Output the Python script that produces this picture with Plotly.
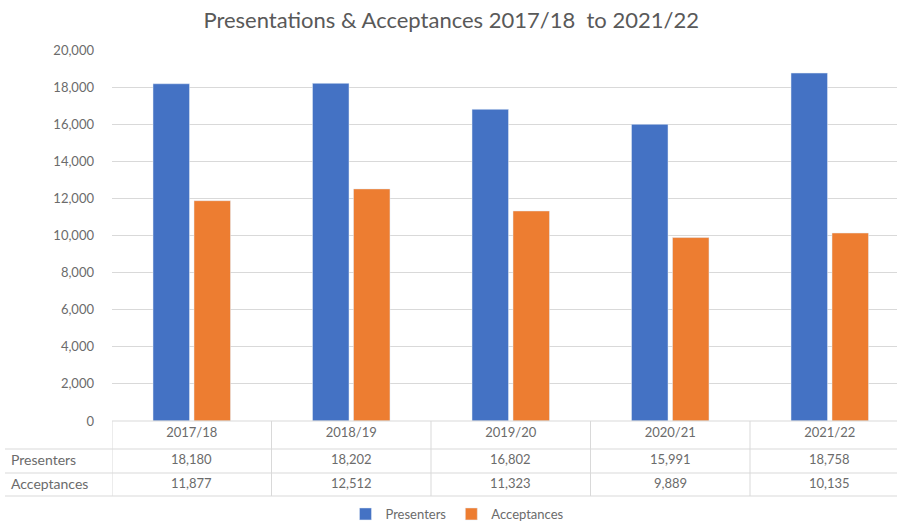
import plotly.graph_objects as go

categories = ["2017/18", "2018/19", "2019/20", "2020/21", "2021/22"]
presenters = [18180, 18202, 16802, 15991, 18758]
acceptances = [11877, 12512, 11323, 9889, 10135]
series_names = ["Presenters", "Acceptances"]
y_ticks = [0, 2000, 4000, 6000, 8000, 10000, 12000, 14000, 16000, 18000, 20000]

W, H = 897, 521
ML, MR, MT, MB = 112, 0, 50, 100
plot_w = W - ML - MR
plot_h = H - MT - MB
cat_px = 159.5
x_max = -0.5 + plot_w / cat_px

BLUE = "#4472C4"
ORANGE = "#ED7D31"
GRID = "#D9D9D9"
TXT = "#6b6b6b"
FONT = "Lato"

def py(px_below):  # pixels below plot bottom -> paper y
    return -px_below / plot_h

def pxx(px_from_left):  # page px -> paper x
    return (px_from_left - ML) / plot_w

fig = go.Figure()
fig.add_trace(go.Bar(x=categories, y=presenters, name=series_names[0], marker_color=BLUE))
fig.add_trace(go.Bar(x=categories, y=acceptances, name=series_names[1], marker_color=ORANGE))

shapes = []
for yy in [28, 52, 75]:
    shapes.append(dict(type="line", xref="paper", yref="paper", x0=pxx(5), x1=1.02,
                       y0=py(yy), y1=py(yy), line=dict(color=GRID, width=1)))
shapes.append(dict(type="line", xref="paper", yref="paper", x0=0, x1=1.02,
                   y0=0, y1=0, line=dict(color=GRID, width=1)))
for i in range(len(categories) + 1):
    shapes.append(dict(type="line", xref="x", yref="paper", x0=i - 0.5, x1=i - 0.5,
                       y0=0, y1=py(75), line=dict(color=GRID, width=1)))

annotations = []
row_labels = series_names
row_vals = [presenters, acceptances]
row_y = [38, 62]
for lab, vals, ry in zip(row_labels, row_vals, row_y):
    annotations.append(dict(text=lab, xref="paper", yref="paper", x=pxx(9), y=py(ry),
                            xanchor="left", yanchor="middle", showarrow=False,
                            font=dict(family=FONT, size=14, color=TXT)))
    for c, v in zip(categories, vals):
        annotations.append(dict(text=f"{v:,}", xref="x", yref="paper", x=c, y=py(ry),
                                xanchor="center", yanchor="middle", showarrow=False,
                                font=dict(family=FONT, size=13, color=TXT)))

fig.update_layout(
    width=W, height=H,
    margin=dict(l=ML, r=MR, t=MT, b=MB),
    paper_bgcolor="white", plot_bgcolor="white",
    title=dict(text="Presentations &amp; Acceptances 2017/18  to 2021/22", x=0.503, xref="container",
               y=1 - 20 / H, yref="container", xanchor="center", yanchor="middle",
               font=dict(family=FONT, size=22, color="#595959")),
    barmode="group", bargap=0.486, bargroupgap=0.11,
    showlegend=True,
    legend=dict(orientation="h", xref="container", yref="container", x=0.51, y=7 / H,
                xanchor="center", yanchor="middle",
                font=dict(family=FONT, size=13, color=TXT), itemwidth=30,
                traceorder="normal"),
    shapes=shapes, annotations=annotations,
    font=dict(family=FONT, color=TXT),
)
fig.update_xaxes(type="category", range=[-0.5, x_max], showgrid=False, showline=False,
                 ticks="", tickfont=dict(family=FONT, size=13, color=TXT), ticklabelstandoff=2)
fig.update_yaxes(range=[0, 20000], tickvals=y_ticks, tickformat=",", showgrid=True,
                 gridcolor=GRID, gridwidth=1, zeroline=False, showline=False, ticks="",
                 tickfont=dict(family=FONT, size=13, color=TXT), ticklabelstandoff=17)

fig.write_html("out.html")
